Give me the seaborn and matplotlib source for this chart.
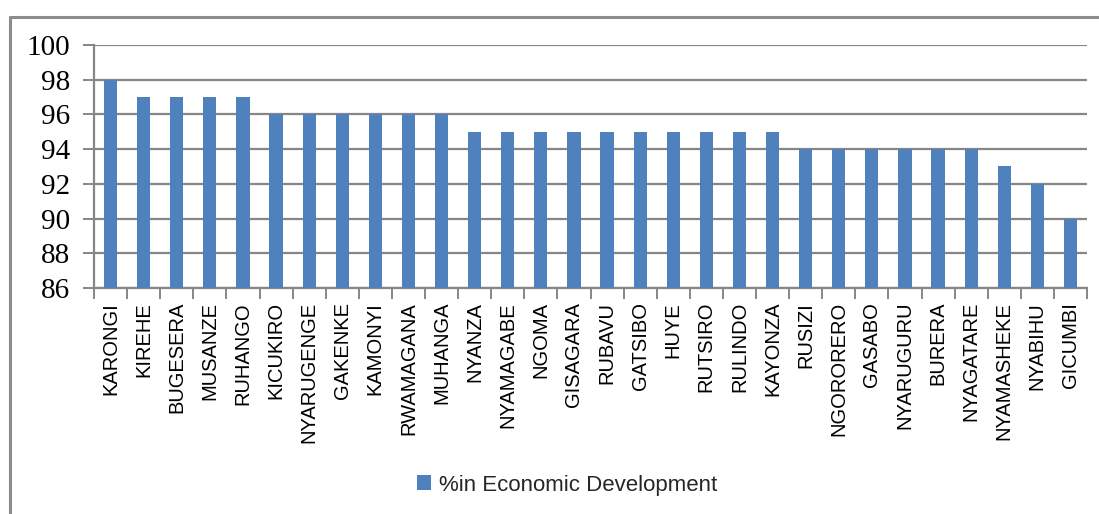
import matplotlib
matplotlib.use("Agg")
import matplotlib.pyplot as plt
from matplotlib import font_manager
from matplotlib.lines import Line2D
from matplotlib.patches import Patch
from matplotlib.ticker import FixedLocator
import pandas as pd
import seaborn as sns

districts = [
    "KARONGI", "KIREHE", "BUGESERA", "MUSANZE", "RUHANGO", "KICUKIRO",
    "NYARUGENGE", "GAKENKE", "KAMONYI", "RWAMAGANA", "MUHANGA", "NYANZA",
    "NYAMAGABE", "NGOMA", "GISAGARA", "RUBAVU", "GATSIBO", "HUYE",
    "RUTSIRO", "RULINDO", "KAYONZA", "RUSIZI", "NGORORERO", "GASABO",
    "NYARUGURU", "BURERA", "NYAGATARE", "NYAMASHEKE", "NYABIHU", "GICUMBI",
]
pct_economic = [
    98, 97, 97, 97, 97, 96,
    96, 96, 96, 96, 96, 95,
    95, 95, 95, 95, 95, 95,
    95, 95, 95, 94, 94, 94,
    94, 94, 94, 93, 92, 90,
]
y_ticks = [86, 88, 90, 92, 94, 96, 98, 100]
series_label = "%in Economic Development"

BAR_COLOR = "#4F81BD"
GRID_COLOR = "#868686"

df = pd.DataFrame({"district": districts, "pct": pct_economic})

sns.set_theme(style="white")
plt.rcParams["font.family"] = ["Liberation Sans", "DejaVu Sans"]

# condensed face for the district names when available
try:
    font_manager.findfont("Liberation Sans Narrow", fallback_to_default=False)
    label_family, label_size = ["Liberation Sans Narrow", "DejaVu Sans"], 17
except ValueError:
    label_family, label_size = ["Liberation Sans", "DejaVu Sans"], 14.5

fig = plt.figure(figsize=(10.99, 5.14), dpi=100)
ax = fig.add_axes([94 / 1099, 1 - 288 / 514, (1087 - 94) / 1099, (288 - 45) / 514])

sns.barplot(data=df, x="district", y="pct", color=BAR_COLOR, width=0.4,
            saturation=1, linewidth=0, edgecolor="none", ax=ax, zorder=3)

ax.set_ylim(86, 100)
ax.set_xlim(-0.5, len(districts) - 0.5)
ax.set_yticks(y_ticks)
ax.set_yticklabels([str(v) for v in y_ticks], family=["Liberation Serif", "DejaVu Serif"],
                   fontsize=21, color="black")
ax.yaxis.grid(True, color=GRID_COLOR, linewidth=1.6, zorder=0)
ax.set_axisbelow(True)

# category labels at bar centres, tick marks on the category boundaries
ax.set_xticks(range(len(districts)))
ax.set_xticklabels(districts, rotation=90, fontsize=label_size, family=label_family,
                   color="black")
ax.xaxis.set_minor_locator(FixedLocator([i - 0.5 for i in range(len(districts) + 1)]))
ax.tick_params(axis="x", which="major", length=0, pad=10)
ax.tick_params(axis="x", which="minor", length=8, width=1.4, color=GRID_COLOR,
               direction="out", bottom=True)
ax.tick_params(axis="y", which="major", length=8, width=1.4, color=GRID_COLOR,
               direction="out", left=True, pad=9)

for side in ("top", "right"):
    ax.spines[side].set_visible(False)
for side in ("left", "bottom"):
    ax.spines[side].set_color(GRID_COLOR)
    ax.spines[side].set_linewidth(1.6)

ax.set_xlabel("")
ax.set_ylabel("")

# chart frame (top and left edges)
fig.add_artist(Line2D([9.5 / 1099, 1.01], [1 - 16.5 / 514, 1 - 16.5 / 514],
                      transform=fig.transFigure, color="#8C8C8C", linewidth=2.2))
fig.add_artist(Line2D([9.5 / 1099, 9.5 / 1099], [-0.01, 1 - 16.5 / 514],
                      transform=fig.transFigure, color="#8C8C8C", linewidth=2.2))

handle = Patch(facecolor=BAR_COLOR, edgecolor="none")
fig.legend([handle], [series_label], loc="center", bbox_to_anchor=(567 / 1099, 1 - 485 / 514),
           frameon=False, fontsize=16, handlelength=0.65, handleheight=0.65,
           handletextpad=0.35, borderpad=0)

fig.savefig("out.png", dpi=100)
